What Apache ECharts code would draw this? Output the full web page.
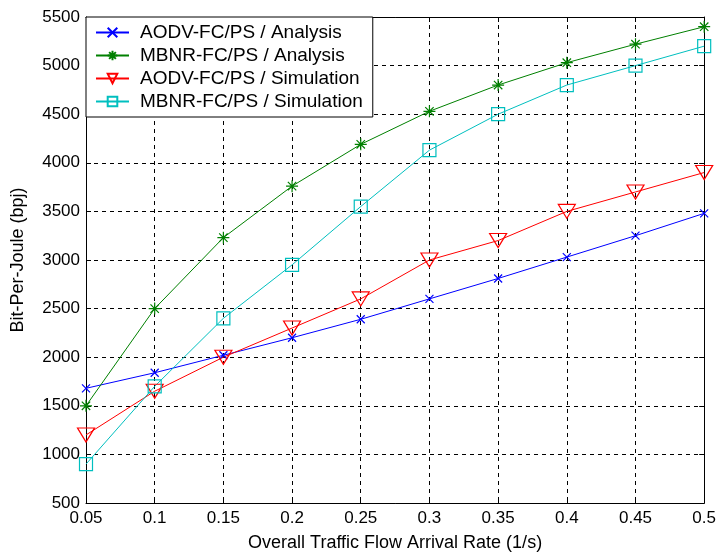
<!DOCTYPE html>
<html><head><meta charset="utf-8">
<script src="https://cdn.jsdelivr.net/npm/echarts@6/dist/echarts.min.js"></script>
<style>html,body{margin:0;padding:0;background:#fff}#c{width:719px;height:557px}</style>
</head><body><div id="c"></div>
<script>
const xValues = [0.05,0.1,0.15,0.2,0.25,0.3,0.35,0.4,0.45,0.5];
const aodvAnalysis = [1680,1840,2020,2200,2390,2600,2810,3030,3250,3480];
const mbnrAnalysis = [1500,2500,3230,3760,4190,4530,4800,5030,5220,5400];
const aodvSimulation = [1200,1650,2000,2300,2600,3000,3200,3500,3700,3900];
const mbnrSimulation = [900,1700,2400,2950,3550,4130,4500,4800,5000,5200];
const seriesNames = ['AODV-FC/PS / Analysis','MBNR-FC/PS / Analysis','AODV-FC/PS / Simulation','MBNR-FC/PS / Simulation'];

const FONT = 'Liberation Sans';
const pair = arr => arr.map((v,i)=>[xValues[i], v]);
const sym = {
  x: 'path://M0,0L10,10M10,0L0,10',
  star: 'path://M5,0L5,10M0,5L10,5M1.5,1.5L8.5,8.5M8.5,1.5L1.5,8.5',
  tri: 'path://M0,0L10,0L5,8.66Z',
  sq: 'path://M0,0L10,0L10,10L0,10Z'
};
function mk(name, data, color, symbol, size){
  return {
    name, type:'line', data: pair(data), symbol, symbolSize:size, showSymbol:true,
    lineStyle:{color, width:1}, itemStyle:{color:'none', borderColor:color, borderWidth:1.2},
    emphasis:{disabled:true}, animation:false, z:3
  };
}
const chart = echarts.init(document.getElementById('c'));
const axisCommon = {
  axisLine:{show:true, lineStyle:{color:'#000', width:1}},
  axisTick:{show:true, inside:true, length:5, lineStyle:{color:'#000'}},
};
chart.setOption({
  backgroundColor:'#fff',
  animation:false,
  grid:{left:86, right:13, top:17, bottom:50, show:false},
  legend:{
    data: seriesNames, orient:'vertical', left:86, top:17,
    backgroundColor:'#fff', borderColor:'#000', borderWidth:1,
    padding:[6,10,6,9], itemGap:4, itemWidth:33, itemHeight:12,
    textStyle:{fontFamily:FONT, fontSize:19, color:'#000', lineHeight:19, padding:[0,0,0,6]},
    selectedMode:false
  },
  xAxis:[{
    type:'value', min:0.05, max:0.5, interval:0.05,
    name:'Overall Traffic Flow Arrival Rate (1/s)', nameLocation:'middle', nameGap:31,
    nameTextStyle:{fontFamily:FONT, fontSize:18, color:'#000'},
    axisLabel:{fontFamily:FONT, fontSize:17, color:'#000', margin:7, formatter:v=>String(+v.toFixed(2))},
    splitLine:{show:true, lineStyle:{color:'#000', type:[4,4], width:1}},
    ...axisCommon
  },{
    type:'value', position:'top', min:0.05, max:0.5, interval:0.05,
    axisLabel:{show:false}, splitLine:{show:false}, ...axisCommon
  }],
  yAxis:[{
    type:'value', min:500, max:5500, interval:500,
    name:'Bit-Per-Joule (bpj)', nameLocation:'middle', nameGap:59, nameRotate:90,
    nameTextStyle:{fontFamily:FONT, fontSize:18, color:'#000'},
    axisLabel:{fontFamily:FONT, fontSize:17, color:'#000', margin:6, formatter:v=>String(v)},
    splitLine:{show:true, lineStyle:{color:'#000', type:[4,4], width:1}},
    ...axisCommon
  },{
    type:'value', position:'right', min:500, max:5500, interval:500,
    axisLabel:{show:false}, splitLine:{show:false}, ...axisCommon
  }],
  series:[
    mk(seriesNames[0], aodvAnalysis, '#0000ff', sym.x, 8),
    mk(seriesNames[1], mbnrAnalysis, '#008000', sym.star, 12),
    mk(seriesNames[2], aodvSimulation, '#ff0000', sym.tri, [17,14]),
    mk(seriesNames[3], mbnrSimulation, '#00bfbf', sym.sq, 13)
  ]
});
</script></body></html>
